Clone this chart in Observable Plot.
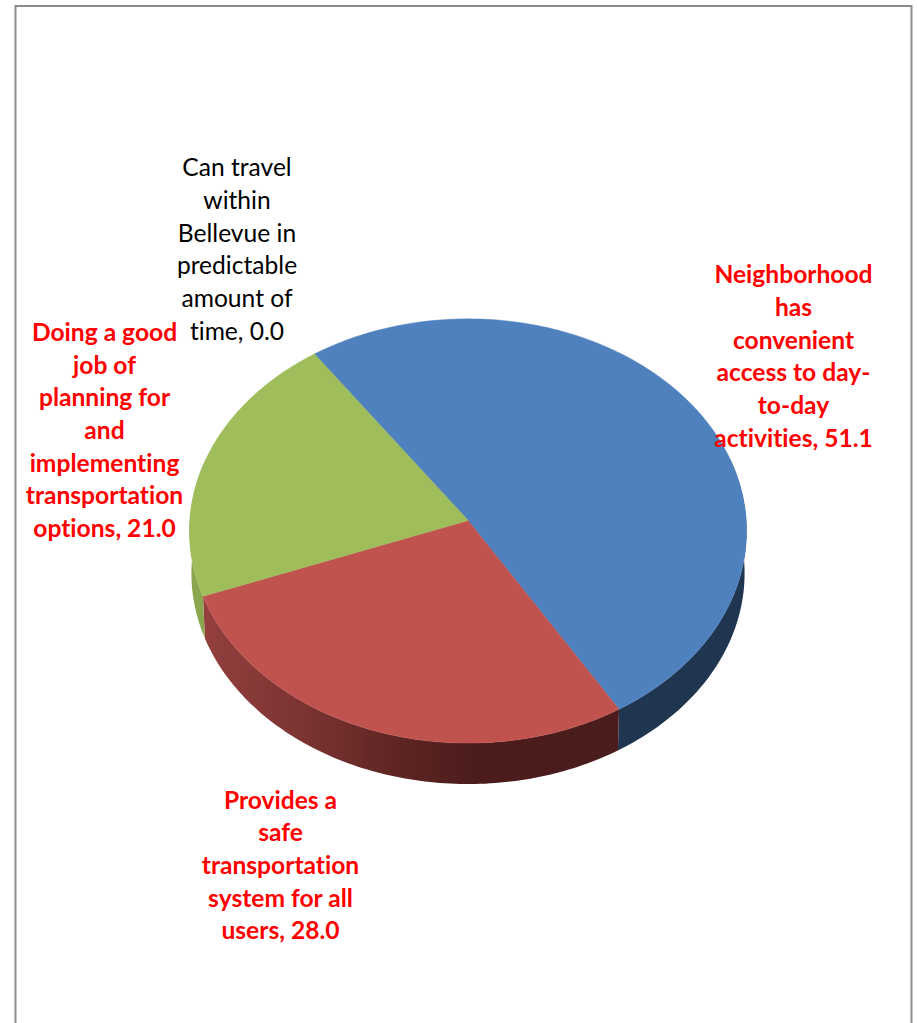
<!DOCTYPE html>
<html>
<head>
<meta charset="utf-8">
<script src="https://cdn.jsdelivr.net/npm/d3@7"></script>
<script src="https://cdn.jsdelivr.net/npm/@observablehq/plot@0.6"></script>
<style>
  html, body { margin: 0; padding: 0; background: #fff; }
  svg { display: block; }
  svg text { font-variant-ligatures: none; }
</style>
</head>
<body>
<div id="chart"></div>
<script>
// Survey shares, clockwise from the first slice
const categories = [
  "Neighborhood\nhas\nconvenient\naccess to day-\nto-day\nactivities",
  "Provides a\nsafe\ntransportation\nsystem for all\nusers",
  "Doing a good\njob of\nplanning for\nand\nimplementing\ntransportation\noptions",
  "Can travel\nwithin\nBellevue in\npredictable\namount of\ntime"
];
const values = [51.1, 28.0, 21.0, 0.0];
const topColors = ["#5081bf", "#c1534f", "#a0bd5c", "#8064a2"];
const sideColors = ["#1f3550", "url(#redWall)", "#8aa64f", "#5c4876"];
const labelColors = ["#ff0000", "#ff0000", "#ff0000", "#000000"];
const labelX = [793, 280, 104, 236.5];
const labelY = [354, 863, 428, 247];

// Tilted disc seen in perspective
const pie = {cx: 467.5, cy: 520, a: 278.2, b: 211.6, k: 0.0494, start: -35.1, depth: 42.5, shrink: 0.993};
const total = d3.sum(values);

function project(deg, scale = 1, drop = 0) {
  const t = deg * Math.PI / 180;
  const w = 1 + pie.k * Math.cos(t);
  return {
    x: pie.cx + scale * pie.a * Math.sin(t) / w,
    y: pie.cy - scale * pie.b * Math.cos(t) / w + drop
  };
}

const spans = [];
let cursor = pie.start;
values.forEach((v, i) => {
  const sweep = v / total * 360;
  spans.push({i, from: cursor, to: cursor + sweep});
  cursor += sweep;
});

const topFaces = [];
const walls = [];
for (const {i, from, to} of spans) {
  if (to === from) continue;
  const steps = Math.max(2, Math.ceil(to - from));
  const arc = d3.range(steps + 1).map(s => from + (to - from) * s / steps);
  topFaces.push({slice: i, fill: topColors[i], ...project(0, 0)});
  for (const d of arc) topFaces.push({slice: i, fill: topColors[i], ...project(d)});
  // The wall only exists along the front of the disc; the rest stays behind the top face
  const front = arc.filter(d => Math.cos(d * Math.PI / 180) < 0.3);
  for (const d of front) walls.push({slice: i, fill: sideColors[i], ...project(d)});
  for (const d of [...front].reverse()) walls.push({slice: i, fill: sideColors[i], ...project(d, pie.shrink, pie.depth)});
}

const labels = categories.map((c, i) => ({
  text: `${c}, ${values[i].toFixed(1)}`,
  x: labelX[i],
  y: labelY[i],
  color: labelColors[i]
}));

// The red wall darkens from left to right
function wallGradient() {
  const svgNS = "http://www.w3.org/2000/svg";
  const defs = document.createElementNS(svgNS, "defs");
  const g = document.createElementNS(svgNS, "linearGradient");
  g.setAttribute("id", "redWall");
  g.setAttribute("gradientUnits", "userSpaceOnUse");
  g.setAttribute("x1", 205);
  g.setAttribute("x2", 617);
  g.setAttribute("y1", 0);
  g.setAttribute("y2", 0);
  for (const [o, c] of [[0, "#933f3e"], [0.25, "#7a3331"], [0.48, "#5c2422"], [0.66, "#4b1c1b"], [1, "#4a1c1b"]]) {
    const s = document.createElementNS(svgNS, "stop");
    s.setAttribute("offset", o);
    s.setAttribute("stop-color", c);
    g.appendChild(s);
  }
  defs.appendChild(g);
  return defs;
}

const frameColor = "#8c8c8c";
const pixel = (size) => ({domain: [0, size], range: [0, size]});
const textStyle = {
  x: "x", y: "y", text: "text", fill: "color",
  fontFamily: "Lato, Carlito, sans-serif", lineHeight: 1.33, textAnchor: "middle"
};

const chart = Plot.plot({
  width: 917,
  height: 1023,
  margin: 0,
  x: {...pixel(917), axis: null},
  y: {...pixel(1023), axis: null},
  color: {type: "identity"},
  marks: [
    wallGradient,
    Plot.ruleY([5.5], {x1: 15, x2: 911, stroke: frameColor, strokeWidth: 2}),
    Plot.ruleX([15], {y1: 5, y2: 1023, stroke: frameColor, strokeWidth: 2}),
    Plot.ruleX([911], {y1: 5, y2: 1023, stroke: frameColor, strokeWidth: 2}),
    Plot.line(walls, {x: "x", y: "y", z: "slice", fill: "fill", stroke: "none", curve: "linear-closed"}),
    Plot.line(topFaces, {x: "x", y: "y", z: "slice", fill: "fill", stroke: "fill", strokeWidth: 0.5, curve: "linear-closed"}),
    Plot.text(labels.filter(d => d.color === "#ff0000"), {...textStyle, fontSize: 24.6, fontWeight: "bold"}),
    Plot.text(labels.filter(d => d.color !== "#ff0000"), {...textStyle, fontSize: 24.6})
  ]
});

document.getElementById("chart").append(chart);
</script>
</body>
</html>
